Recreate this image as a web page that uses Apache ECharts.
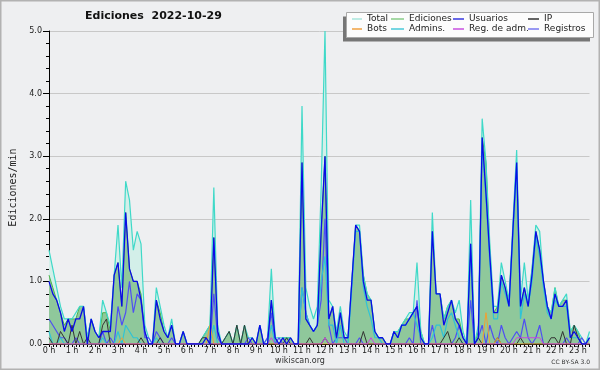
<!DOCTYPE html>
<html><head><meta charset="utf-8">
<script src="https://cdn.jsdelivr.net/npm/echarts@6/dist/echarts.min.js"></script>
<style>html,body{margin:0;padding:0;background:#eeeff1;}#c{width:600px;height:370px;}</style>
</head><body><div id="c"></div>
<script>
// Tick labels (one per hour)
const hourLabels = ['0 h','1 h','2 h','3 h','4 h','5 h','6 h','7 h','8 h','9 h','10 h','11 h','12 h','13 h','14 h','15 h','16 h','17 h','18 h','19 h','20 h','21 h','22 h','23 h'];
// Categories: 10-minute slots 0:00 .. 23:30
const slots = [];
for (let h = 0; h < 24; h++) for (let m = 0; m < 60; m += 10) { if (h === 23 && m > 30) break; slots.push(h + ':' + (m < 10 ? '0' : '') + m); }

// Series values (edits per minute), one row per hour
const total = [
 1.5,1.2,0.9,0.6,0.4,0.4, 0.4,0.5,0.6,0.6,0.1,0.4, 0.2,0.1,0.7,0.5,0.3,1.1, 1.9,0.9,2.6,2.3,1.5,1.8,
 1.6,0.3,0.1,0,0.9,0.6, 0.3,0.1,0.4,0,0,0.2, 0,0,0,0,0.1,0.2, 0.3,2.5,0.3,0,0.1,0.2,
 0,0.3,0,0.3,0.1,0.1, 0,0.3,0,0.1,1.2,0.1, 0.1,0.1,0.1,0.1,0,0, 3.8,0.9,0.6,0.4,0.6,2.5,
 5.0,0.7,0.6,0.2,0.6,0.2, 0.1,1.0,1.9,1.9,1.1,0.8, 0.7,0.2,0.1,0.1,0,0, 0.2,0.2,0.3,0.4,0.5,0.5,
 1.3,0.2,0,0,2.1,0.8, 0.8,0.4,0.6,0.7,0.5,0.7, 0.2,0,2.3,0,0.3,3.6, 2.9,1.6,0.6,0.6,1.3,1.0,
 0.7,1.9,3.1,0.7,1.3,0.7, 1.2,1.9,1.8,1.0,0.6,0.5, 0.9,0.6,0.7,0.8,0.2,0.3, 0.2,0.1,0,0.2];
const ediciones = [
 1.1,0.9,0.7,0.5,0.3,0.4, 0.4,0.4,0.6,0.6,0.1,0.4, 0.2,0.1,0.5,0.5,0.2,1.1, 1.3,0.6,2.1,1.2,1.0,1.0,
 0.8,0.2,0,0,0.7,0.5, 0.2,0.1,0.3,0,0,0.2, 0,0,0,0,0.1,0.2, 0.3,1.7,0.2,0,0.1,0.2,
 0,0.3,0,0.3,0,0.1, 0,0.3,0,0,0.7,0.1, 0,0.1,0.1,0.1,0,0, 2.9,0.4,0.3,0.2,0.3,1.8,
 3.0,0.4,0.6,0.1,0.5,0.1, 0.1,1.0,1.9,1.8,1.1,0.8, 0.7,0.2,0.1,0.1,0,0, 0.2,0.2,0.3,0.4,0.4,0.5,
 0.6,0.2,0,0,1.8,0.8, 0.8,0.4,0.6,0.7,0.4,0.4, 0.1,0,1.6,0,0.2,3.3, 2.9,1.5,0.5,0.6,1.1,0.9,
 0.7,1.8,2.9,0.6,0.9,0.6, 1.2,1.8,1.5,1.0,0.6,0.5, 0.9,0.6,0.7,0.7,0.2,0.3, 0.2,0,0,0.1];
const usuarios = [
 1.0,0.8,0.7,0.5,0.2,0.4, 0.2,0.4,0.4,0.6,0,0.4, 0.2,0.1,0.2,0.2,0.2,1.1, 1.3,0.6,2.1,1.2,1.0,1.0,
 0.7,0.2,0,0,0.7,0.4, 0.2,0.1,0.3,0,0,0.2, 0,0,0,0,0,0.1, 0,1.7,0.2,0,0,0,
 0,0,0,0,0,0.1, 0,0.3,0,0,0.7,0.1, 0,0.1,0,0.1,0,0, 2.9,0.4,0.3,0.2,0.3,1.8,
 3.0,0.4,0.6,0.1,0.5,0.1, 0.1,1.0,1.9,1.8,1.0,0.7, 0.7,0.2,0.1,0.1,0,0, 0.2,0.1,0.3,0.3,0.4,0.5,
 0.6,0.1,0,0,1.8,0.8, 0.8,0.3,0.5,0.7,0.4,0.3, 0.1,0,1.6,0,0.1,3.3, 2.4,1.4,0.5,0.5,1.1,0.9,
 0.6,1.8,2.9,0.6,0.9,0.6, 1.1,1.8,1.5,1.0,0.6,0.4, 0.8,0.6,0.6,0.7,0.1,0.2, 0.1,0,0,0.1];
const ip = [
 0.1,0,0,0.2,0.1,0, 0.3,0,0.2,0,0.1,0, 0,0,0.3,0.4,0,0, 0,0,0,0,0,0,
 0.1,0,0,0,0,0.1, 0,0,0,0,0,0, 0,0,0,0,0.1,0.1, 0,0,0,0,0.1,0.2,
 0,0.3,0,0.3,0,0, 0,0,0,0,0,0, 0,0,0.1,0,0,0, 0,0,0.1,0,0,0,
 0.1,0,0,0,0,0, 0,0,0,0,0.2,0, 0,0,0,0,0,0, 0,0,0,0,0,0,
 0,0,0,0,0,0, 0,0.1,0.2,0,0,0.1, 0,0,0,0,0.1,0, 0,0,0,0.1,0,0,
 0,0,0,0.1,0,0, 0,0,0,0,0,0.1, 0.1,0,0.2,0,0,0.3, 0.1,0,0,0];
const bots = [
 0,0,0,0,0,0, 0,0,0,0,0,0, 0,0,0,0,0,0, 0,0.1,0,0,0,0,
 0,0,0,0,0,0, 0,0,0,0,0,0, 0,0,0,0,0,0, 0.3,0,0,0,0,0,
 0,0,0,0,0,0, 0,0,0,0,0,0, 0,0,0,0,0,0, 0,0,0,0,0,0,
 0,0,0,0,0,0, 0,0,0,0,0,0, 0,0,0,0,0,0, 0,0,0,0,0,0,
 0,0,0,0,0,0, 0,0,0,0,0,0, 0,0,0,0,0,0, 0.5,0,0,0.1,0,0,
 0,0,0,0,0,0, 0,0,0,0,0,0, 0,0,0,0,0,0, 0,0,0,0];
const admins = [
 0.2,0,0,0.1,0,0, 0,0,0,0,0,0, 0,0,0.1,0,0,0, 0.2,0,0.3,0.2,0.1,0.1,
 0,0,0,0,0.1,0, 0,0,0,0,0,0, 0,0,0,0,0,0, 0,0.3,0,0,0,0,
 0,0,0,0,0,0, 0,0,0,0,0.3,0, 0,0,0,0,0,0, 0.9,0.5,0.3,0.2,0.3,1.0,
 1.4,0.3,0.3,0,0.3,0, 0,0.9,1.8,1.8,0.9,0.6, 0.4,0.1,0.1,0,0,0, 0.2,0.1,0.3,0.3,0.4,0.5,
 0.3,0.1,0,0,0.1,0.3, 0.3,0.1,0.4,0.5,0.3,0.1, 0,0,1.5,0,0.1,3.2, 2.3,1.3,0.4,0.4,1.0,0.8,
 0.6,1.7,2.8,0.4,0.8,0.6, 1.0,1.7,1.4,0.9,0.5,0.4, 0.7,0.6,0.6,0.6,0.1,0.1, 0.1,0,0,0.1];
const regAdm = [
 0,0,0,0,0,0, 0,0,0,0,0,0, 0,0,0,0,0,0, 0,0,0,0,0,0,
 0,0,0,0,0,0, 0,0,0,0,0,0, 0,0,0,0,0,0, 0,0,0,0,0,0,
 0,0,0,0,0,0, 0,0,0,0,0.1,0, 0,0,0,0,0,0, 0,0,0,0,0,0,
 0.1,0,0,0,0,0, 0,0,0,0,0,0, 0.1,0,0,0,0,0, 0,0,0,0,0,0,
 0,0,0,0,0,0, 0,0,0,0,0,0, 0,0,0,0,0,0, 0,0,0,0,0,0,
 0,0,0.1,0.1,0.1,0.1, 0.1,0.1,0.1,0,0,0, 0,0,0,0,0,0, 0,0,0,0];
const registros = [
 0.4,0.3,0.2,0.1,0.1,0, 0,0.1,0,0,0,0, 0,0,0.2,0,0.1,0, 0.6,0.3,0.5,1.0,0.5,0.8,
 0.7,0.1,0.1,0,0.2,0.1, 0,0,0.1,0,0,0, 0,0,0,0,0,0, 0,0.8,0.1,0,0,0,
 0,0,0,0,0.1,0, 0,0,0,0.1,0.5,0, 0.1,0,0,0,0,0, 0.9,0.5,0.3,0.2,0.3,0.7,
 2.0,0.3,0,0.1,0.1,0.1, 0,0,0,0.1,0,0, 0,0,0,0,0,0, 0,0,0,0,0.1,0,
 0.7,0,0,0,0.3,0, 0,0,0,0,0.1,0.3, 0.1,0,0.7,0,0.1,0.3, 0,0.3,0.1,0,0.3,0.1,
 0,0.1,0.2,0.1,0.4,0.1, 0,0.1,0.3,0,0,0, 0,0,0,0.1,0,0, 0,0.1,0,0.1];

const FONT = 'DejaVu Sans';
function ln(name, data, color, width, extra) {
  return Object.assign({ name, type: 'line', data, showSymbol: false, symbol: 'none', silent: true,
    lineStyle: { color, width }, itemStyle: { color } }, extra || {});
}
const series = [
  ln('Total', total, '#a8e6dc', 0, { areaStyle: { color: '#d3efe9', opacity: 1 } }),
  ln('Ediciones', ediciones, '#4cb44c', 1, { areaStyle: { color: '#8fc89b', opacity: 1 } }),
  ln('Total', total, '#3fd9c8', 1.2),
  ln('Registros', registros, '#4f4ff2', 1.2),
  ln('Admins.', admins, '#2fc3d6', 1.2),
  ln('IP', ip, '#333333', 1),
  ln('Bots', bots, '#f2a030', 1),
  ln('Reg. de adm.', regAdm, '#c845e0', 1),
  ln('Usuarios', usuarios, '#0a0ae8', 1.3)
];
const legendColors = { 'Total': '#a8e6dc', 'Ediciones': '#88cc88', 'Usuarios': '#3838e0', 'IP': '#333333',
  'Bots': '#f0a040', 'Admins.': '#48c8d8', 'Reg. de adm.': '#c850e0', 'Registros': '#7878f0' };
function leg(left, w, names) {
  return { orient: 'vertical', left, top: 14, itemWidth: w, itemHeight: 1.5, itemGap: 0, icon: 'rect', padding: 0, z: 10,
    textStyle: { fontFamily: FONT, fontSize: 9, color: '#222', lineHeight: 10, padding: [0,0,0,0] },
    selectedMode: false,
    data: names.map(n => ({ name: n, itemStyle: { color: legendColors[n] } })) };
}

const chart = echarts.init(document.getElementById('c'), null, { renderer: 'canvas' });
chart.setOption({
  animation: false,
  backgroundColor: '#eeeff1',
  title: { text: 'Ediciones  2022-10-29', left: 85, top: 11, padding: 0,
    textStyle: { fontFamily: FONT, fontSize: 11, fontWeight: 'bold', color: '#111' } },
  legend: [
    leg(352, 10, ['Total', 'Bots']),
    leg(391, 13, ['Ediciones', 'Admins.']),
    leg(453, 11, ['Usuarios', 'Reg. de adm.']),
    leg(528, 11, ['IP', 'Registros'])
  ],
  grid: { left: 46, top: 31, right: 10.5, bottom: 26, containLabel: false },
  xAxis: {
    type: 'category', data: slots, boundaryGap: false,
    axisLine: { lineStyle: { color: '#000', width: 1 } },
    axisTick: { interval: 0, length: 3, lineStyle: { color: '#000' } },
    axisLabel: { interval: (i) => i % 6 === 0, formatter: (v, i) => hourLabels[i / 6],
      fontFamily: FONT, fontSize: 8, color: '#222', margin: 3 },
    splitLine: { show: false }
  },
  yAxis: {
    type: 'value', min: 0, max: 5, interval: 1,
    name: 'Ediciones/min', nameLocation: 'middle', nameGap: 31,
    nameTextStyle: { fontFamily: 'DejaVu Sans Mono', fontSize: 10, color: '#222' },
    axisLine: { show: true, lineStyle: { color: '#000', width: 1 } },
    axisTick: { show: true, length: 6, lineStyle: { color: '#000' } },
    minorTick: { show: true, splitNumber: 5, length: 3, lineStyle: { color: '#000' } },
    axisLabel: { formatter: v => v.toFixed(1), fontFamily: FONT, fontSize: 8, color: '#222', margin: 7 },
    splitLine: { show: true, lineStyle: { color: '#c8c8c8', width: 1 } }
  },
  graphic: [
    { type: 'rect', z: 1, silent: true, shape: { x: 0.75, y: 0.75, width: 598.5, height: 368.5 },
      style: { fill: 'none', stroke: '#b2b2b2', lineWidth: 1.5 } },
    { type: 'rect', z: 1, silent: true, shape: { x: 343, y: 16.5, width: 247, height: 25 }, style: { fill: '#767676' } },
    { type: 'rect', z: 2, silent: true, shape: { x: 346.5, y: 12.5, width: 247, height: 25 },
      style: { fill: '#fcfcfc', stroke: '#a8a8a8', lineWidth: 1 } },
    { type: 'text', z: 2, silent: true, x: 300, y: 361,
      style: { text: 'wikiscan.org', fontFamily: FONT, fontSize: 8, fill: '#333', align: 'center', verticalAlign: 'middle' } },
    { type: 'text', z: 2, silent: true, x: 590, y: 362,
      style: { text: 'CC BY-SA 3.0', fontFamily: FONT, fontSize: 6, fill: '#333', align: 'right', verticalAlign: 'middle' } }
  ],
  series
});
</script></body></html>
